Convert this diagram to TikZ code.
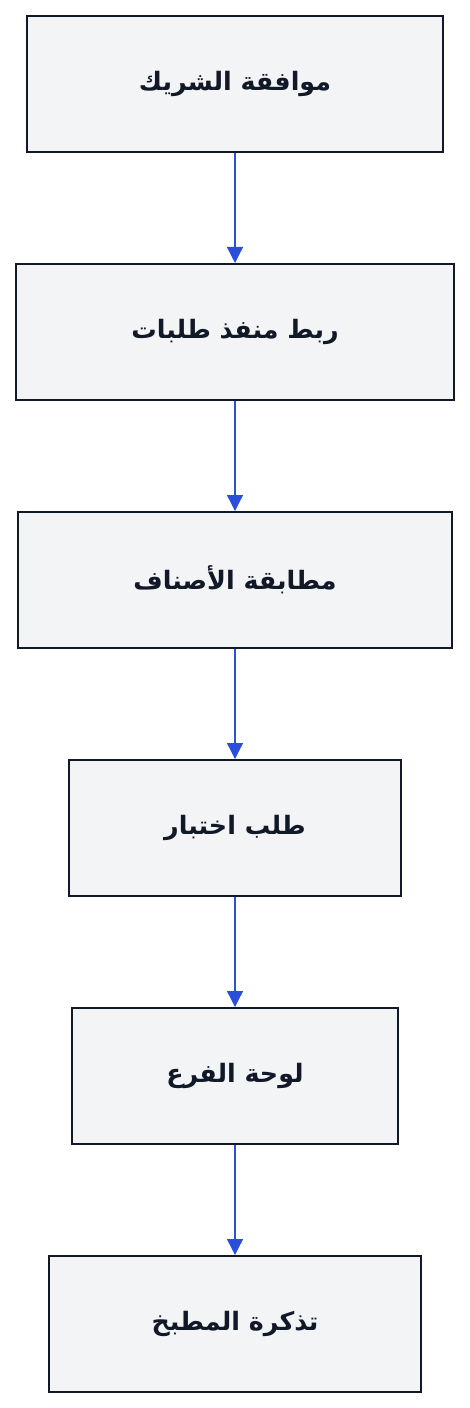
\documentclass[tikz,border=0pt]{standalone}
\usepackage{fontspec}
\TeXXeTstate=1
\newfontfamily\arabicfont[Script=Arabic]{DejaVu Sans}
\usetikzlibrary{arrows.meta}
\definecolor{boxfill}{HTML}{F3F4F6}
\definecolor{boxline}{HTML}{111827}
\definecolor{arrowblue}{HTML}{2B4FD8}
\tikzset{
  stepbox/.style={draw=boxline, fill=boxfill, text=boxline, line width=1.5pt, inner sep=0pt,
    minimum height=102pt, font=\arabicfont\bfseries\fontsize{19}{22}\selectfont},
  flow/.style={draw=arrowblue, line width=1pt, -{Triangle[width=12pt,length=12pt]}}
}
\begin{document}
\begin{tikzpicture}[x=0.75pt,y=-0.75pt]
\useasboundingbox (0,0) rectangle (470,1408);
\node[stepbox, minimum width=312pt] (n1) at (235,84) {\beginR موافقة الشريك\endR};
\node[stepbox, minimum width=328.5pt] (n2) at (235,332) {\beginR ربط منفذ طلبات\endR};
\node[stepbox, minimum width=325.5pt] (n3) at (235,580) {\beginR مطابقة الأصناف\endR};
\node[stepbox, minimum width=249pt] (n4) at (235,828) {\beginR طلب اختبار\endR};
\node[stepbox, minimum width=244.5pt] (n5) at (235,1076) {\beginR لوحة الفرع\endR};
\node[stepbox, minimum width=279pt] (n6) at (235,1324) {\beginR تذكرة المطبخ\endR};
\draw[flow] (n1.south) -- (n2.north);
\draw[flow] (n2.south) -- (n3.north);
\draw[flow] (n3.south) -- (n4.north);
\draw[flow] (n4.south) -- (n5.north);
\draw[flow] (n5.south) -- (n6.north);
\end{tikzpicture}
\end{document}
